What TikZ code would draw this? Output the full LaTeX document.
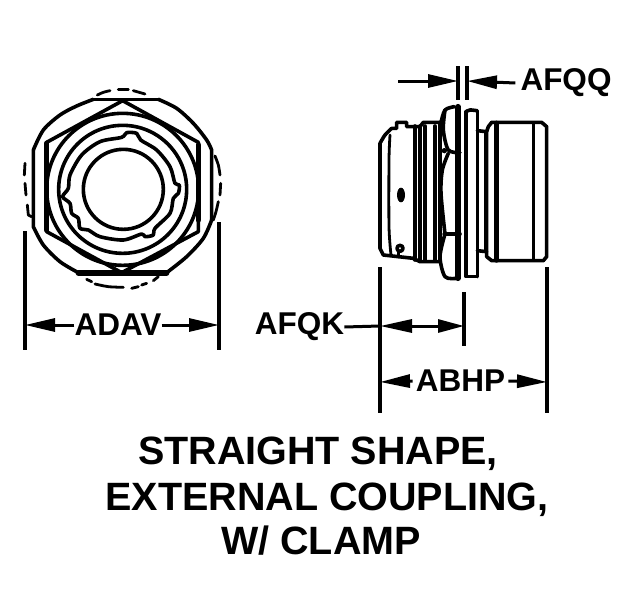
\documentclass[tikz,border=0pt]{standalone}
\usepackage{fontspec}
\setmainfont{Liberation Sans}
\usetikzlibrary{arrows.meta}
\tikzset{
  lab/.style={inner sep=0pt,font=\bfseries\fontsize{31.5}{31.5}\selectfont},
  ttl/.style={inner sep=0pt,font=\bfseries\fontsize{39.5}{39.5}\selectfont},
  ext/.style={line width=3.2pt},
  dim/.style={line width=3pt,-{Triangle[length=30pt,width=13pt]}},
  dimb/.style={line width=3pt,{Triangle[length=32pt,width=13pt]}-{Triangle[length=26pt,width=13pt]}},
  ln/.style={line width=3.6pt,line join=round,line cap=round},
  thk/.style={line width=5.5pt,line join=round,line cap=round},
  thn/.style={line width=2.8pt,line cap=round,line join=round}
}
\begin{document}
\begin{tikzpicture}[x=1pt,y=-1pt]
\useasboundingbox (0,0) rectangle (624,605);
% left view
\begin{scope}[shift={(10,80)},x=0.33333pt,y=-0.33333pt]
\draw[ln] plot[smooth] coordinates {(445,58)(500,85)(550,130)(590,180)(605,210)} -- (605,420);
\draw[ln] plot[smooth] coordinates {(605,420)(580,475)(530,530)(470,578)};
\draw[ln] plot[smooth] coordinates {(205,578)(150,545)(100,495)(70,440)} -- (70,210);
\draw[ln] plot[smooth] coordinates {(70,210)(100,150)(150,105)(200,78)(250,58)};
\draw[ln] (250,58) -- (445,58);
\draw[thk] (205,579) -- (470,579);
\draw[ln] (338,62) -- (565,187) -- (565,455) -- (335,578) -- (110,455) -- (110,187) -- cycle;
\draw[thk] (110,190) -- (110,450);
\draw[thk] (565,195) -- (565,420);
\draw[ln] (338,328) circle[radius=228];
\draw[ln] (338,328) circle[radius=192];
\draw[ln] (340,328) circle[radius=120];
\draw[ln] plot[smooth cycle] coordinates {(335,172)(350,158)(380,160)(392,180)(440,210)(480,260)(495,310)(508,315)(505,340)(490,355)(480,400)(435,445)(430,465)(405,470)(395,462)(340,480)(270,470)(235,450)(210,445)(205,415)(185,400)(180,370)(158,350)(175,325)(180,285)(215,225)(270,185)};
% dashed outer circle
\draw[thn] plot[smooth] coordinates {(262,45)(280,37)(300,32)};
\draw[thn] (325,28) -- (355,28);
\draw[thn] (370,32) -- (405,42);
\draw[thn] (230,598) -- (245,605);
\draw[thn] plot[smooth] coordinates {(255,612)(295,620)(340,622)};
\draw[thn] (365,625) -- (385,620);
\draw[thn] (395,615) -- (410,610);
\draw[thn] (430,602) -- (445,590);
\draw[thn] (45,250) -- (43,285);
\draw[thn] (45,310) -- (48,345);
\draw[thn] (52,375) -- (55,405) -- (65,410);
\draw[thn] plot[smooth] coordinates {(615,228)(625,255)(630,285)};
\draw[thn] (632,310) -- (630,345);
\draw[thn] plot[smooth] coordinates {(625,365)(618,395)(610,420)};
\end{scope}
% right view
\begin{scope}[shift={(365,60)},x=0.33333pt,y=-0.33333pt]
\draw[ln] plot[smooth] coordinates {(80,205)(60,225)(45,250)} -- (45,565) -- (55,585) -- (145,595) -- (165,605) -- (225,605);
\draw[ln] (80,205) -- (95,205) -- (95,187) -- (125,187) -- (125,200) -- (165,200) -- (175,187) -- (225,187);
\draw[thn] plot[smooth] coordinates {(75,225)(72,300)(72,500)(78,585)};
\foreach \lx in {150,165,180,210} {\draw[ln] (\lx,198) -- (\lx,600);}
\draw[ln] (225,187) -- (225,605);
\draw[ln] plot[smooth] coordinates {(228,187)(240,150)(268,140)};
\draw[ln] plot[smooth] coordinates {(240,150)(235,210)(250,270)(285,278)};
\draw[ln] plot[smooth] coordinates {(250,280)(232,330)(228,400)(240,522)};
\draw[ln] (240,522) -- (285,522);
\draw[ln] plot[smooth] coordinates {(240,522)(225,590)(240,650)(275,655)};
\draw[thk] (279,140) -- (279,655);
\draw[ln] plot[smooth] coordinates {(303,155)(315,150)(335,152)};
\draw[ln] (303,155) -- (303,650) -- (335,650);
\draw[ln] (337,152) -- (337,650);
\draw[ln] (337,212) -- (365,215);
\draw[ln] (337,572) -- (365,575);
\draw[ln] (362,215) -- (362,575);
\draw[ln] (370,200) -- (380,187) -- (530,187) -- (545,200) -- (545,590) -- (535,602) -- (380,602) -- (365,590) -- (365,215) -- (370,200);
\draw[thk] (395,190) -- (395,600);
\draw[ln] (505,190) -- (505,600);
\fill (108,405) ellipse[x radius=12,y radius=22];
\draw[ln] (105,565) circle[radius=9];
\draw[ln] (100,575) -- (100,590);
\fill (238,272) circle[radius=8];
\fill (238,522) circle[radius=6];
\end{scope}
% extension lines
\coordinate (eL1) at (25,231); \coordinate (eL2) at (25,350);
\coordinate (eR1) at (219,222); \coordinate (eR2) at (219,350);
\coordinate (f1) at (380,267); \coordinate (f2) at (380,413);
\coordinate (g1) at (547,267); \coordinate (g2) at (547,413);
\coordinate (h1) at (464,292); \coordinate (h2) at (464,346);
\coordinate (q1) at (458,66); \coordinate (q2) at (458,100);
\coordinate (r1) at (467,66); \coordinate (r2) at (467,100);
\draw[ext] (eL1)--(eL2); \draw[ext] (eR1)--(eR2);
\draw[ext] (f1)--(f2); \draw[ext] (g1)--(g2); \draw[ext] (h1)--(h2);
\draw[ext] (q1)--(q2); \draw[ext] (r1)--(r2);
% labels
\node[lab] (adav) at (118,325) {ADAV};
\node[lab] (afqk) at (299.5,327) {AFQK};
\node[lab] (abhp) at (460.5,381) {ABHP};
\node[lab] (afqq) at (566,83) {AFQQ};
% dimension arrows
\draw[dim] (adav.west) -- (25,325);
\draw[dim] (adav.east) -- (219,325);
\draw[line width=3pt] (afqk.east) -- (380,326);
\draw[dimb] (380,326) -- (464,326);
\draw[dim] ([xshift=-3pt]abhp.west) -- (380,382);
\draw[dim] ([xshift=3pt]abhp.east) -- (547,382);
\coordinate (qa) at (398,81);
\draw[dim] (qa) -- (458,81);
\draw[dim] ([xshift=-5pt]afqq.west) -- (467,81);
% title
\node[ttl] (t1) at (318,454) {STRAIGHT SHAPE,};
\node[ttl] (t2) at (327,500) {EXTERNAL COUPLING,};
\node[ttl] (t3) at (321,541) {W/ CLAMP};
\end{tikzpicture}
\end{document}
